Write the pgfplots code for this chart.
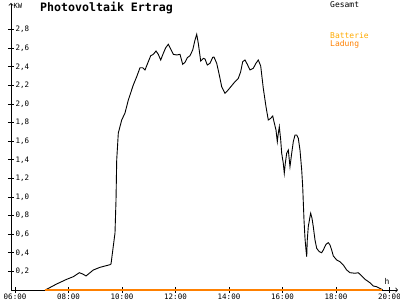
\documentclass[border=0pt]{standalone}
\usepackage{fontspec}
\setmainfont{DejaVu Sans}
\setmonofont{DejaVu Sans Mono}
\usepackage{pgfplots}
\pgfplotsset{compat=1.18}
\definecolor{lad}{RGB}{255,128,0}
\definecolor{bat}{RGB}{255,170,0}

\pgfplotstableread{
h v
7.121 0
7.185 0.008
7.559 0.065
7.933 0.115
8.179 0.143
8.404 0.186
8.531 0.172
8.654 0.151
8.778 0.180
8.927 0.215
9.178 0.244
9.551 0.272
9.589 0.280
9.738 0.613
9.776 0.968
9.802 1.398
9.862 1.688
9.989 1.828
10.112 1.903
10.236 2.043
10.422 2.204
10.550 2.294
10.673 2.390
10.774 2.390
10.860 2.366
10.983 2.455
11.073 2.519
11.170 2.534
11.271 2.570
11.357 2.534
11.447 2.473
11.544 2.545
11.634 2.605
11.731 2.642
11.821 2.591
11.918 2.534
12.045 2.527
12.168 2.534
12.269 2.427
12.355 2.448
12.441 2.498
12.542 2.519
12.643 2.581
12.729 2.688
12.793 2.749
12.852 2.653
12.942 2.462
13.039 2.491
13.103 2.484
13.189 2.419
13.290 2.438
13.391 2.502
13.439 2.505
13.540 2.438
13.637 2.312
13.727 2.186
13.850 2.115
13.936 2.140
14.101 2.197
14.224 2.240
14.348 2.276
14.437 2.347
14.512 2.455
14.598 2.473
14.684 2.427
14.785 2.366
14.908 2.384
15.009 2.438
15.095 2.473
15.185 2.409
15.282 2.169
15.383 1.971
15.469 1.828
15.559 1.846
15.634 1.871
15.682 1.810
15.757 1.720
15.806 1.595
15.843 1.685
15.881 1.756
15.933 1.613
15.970 1.470
16.030 1.362
16.067 1.255
16.105 1.362
16.157 1.470
16.217 1.505
16.280 1.326
16.344 1.470
16.404 1.595
16.467 1.667
16.531 1.667
16.591 1.631
16.654 1.505
16.718 1.290
16.755 1.111
16.804 0.753
16.841 0.556
16.879 0.430
16.905 0.358
16.927 0.538
16.964 0.681
17.028 0.788
17.054 0.825
17.103 0.771
17.151 0.681
17.215 0.538
17.278 0.448
17.375 0.412
17.465 0.401
17.525 0.430
17.626 0.491
17.712 0.509
17.776 0.484
17.839 0.430
17.899 0.366
18.026 0.323
18.150 0.304
18.273 0.269
18.400 0.215
18.523 0.186
18.710 0.180
18.834 0.186
18.923 0.161
19.084 0.115
19.271 0.078
19.394 0.043
19.522 0.035
19.708 0.008
19.75 0
}\gesamt

\begin{document}
\begin{tikzpicture}[x=1pt,y=1pt]
\useasboundingbox (0,0) rectangle (400,300);
\begin{axis}[
  at={(11pt,10pt)}, anchor=south west,
  scale only axis, width=387pt, height=287pt,
  xmin=5.85, xmax=20.318, ymin=0, ymax=3.086,
  axis lines=left,
  axis line style={line width=0.8pt, ->},
  clip=false,
  xtick={6,8,10,12,14,16,18,20},
  xticklabels={06:00,08:00,10:00,12:00,14:00,16:00,18:00,20:00},
  ytick={0.2,0.4,0.6,0.8,1.0,1.2,1.4,1.6,1.8,2.0,2.2,2.4,2.6,2.8},
  yticklabels={{0,2},{0,4},{0,6},{0,8},{1,0},{1,2},{1,4},{1,6},{1,8},{2,0},{2,2},{2,4},{2,6},{2,8}},
  tick align=center, major tick length=6pt,
  tick style={black, line width=0.8pt},
  ticklabel style={font=\fontsize{7.5}{8}\ttfamily},
  yticklabel style={anchor=west, xshift=4pt},
  xticklabel style={anchor=north, yshift=2.5pt},
]
\addplot[black, line width=0.9pt] table {\gesamt};
\end{axis}
\begin{axis}[
  at={(11pt,10pt)}, anchor=south west,
  scale only axis, width=387pt, height=287pt,
  xmin=5.85, xmax=20.318, ymin=0, ymax=3.086,
  hide axis, clip=false,
]
\addplot[lad, line width=1.1pt] coordinates {(7.121,0) (19.72,0)};
\end{axis}
\node[anchor=west, font=\fontsize{7}{8}\ttfamily, inner sep=0] at (13.5,294) {KW};
\node[anchor=west, font=\fontsize{11.6}{13}\ttfamily\bfseries, inner sep=0] at (40,292) {Photovoltaik Ertrag};
\node[anchor=west, font=\fontsize{8}{9}\ttfamily, inner sep=0] at (330,295.5) {Gesamt};
\node[anchor=west, font=\fontsize{8}{9}\ttfamily, inner sep=0, text=bat] at (330,264.2) {Batterie};
\node[anchor=west, font=\fontsize{8}{9}\ttfamily, inner sep=0, text=lad] at (330,255.8) {Ladung};
\node[font=\fontsize{8}{9}\ttfamily, inner sep=0] at (387,19) {h};
\end{tikzpicture}
\end{document}
